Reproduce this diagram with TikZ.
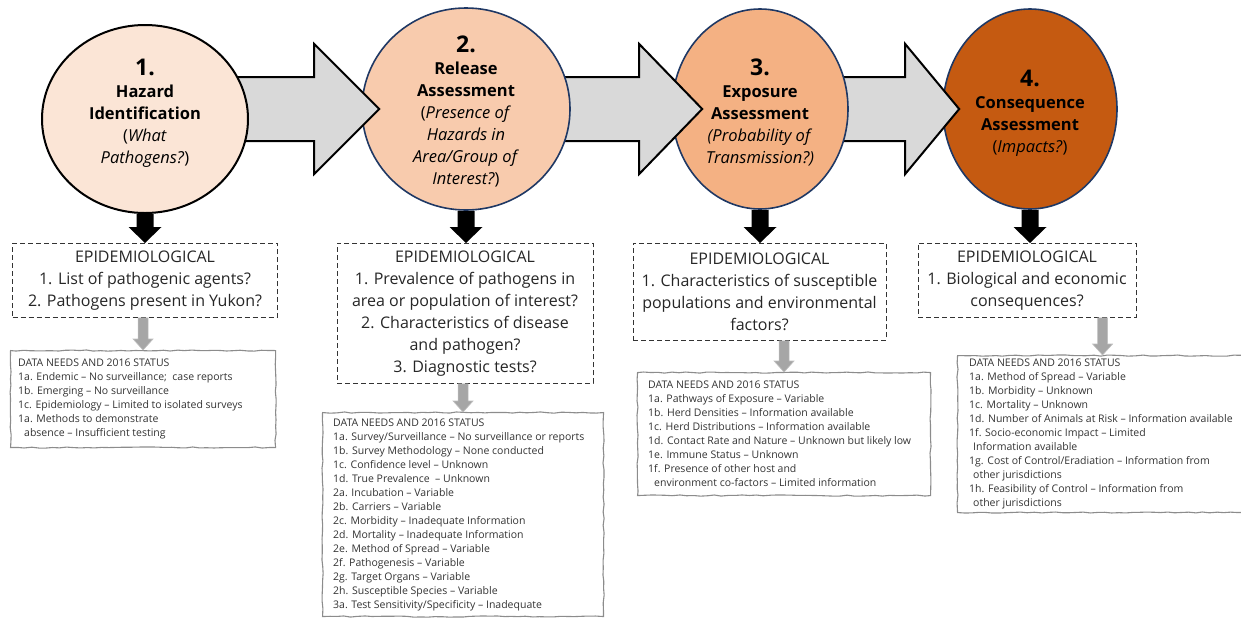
\documentclass[tikz,border=0pt]{standalone}
\usepackage{fontspec}
\setmainfont{Open Sans}
\usetikzlibrary{shapes.geometric,calc,decorations.pathmorphing}

\definecolor{stageone}{HTML}{FBE5D6}
\definecolor{stagetwo}{HTML}{F8CBAD}
\definecolor{stagethree}{HTML}{F4B183}
\definecolor{stagefour}{HTML}{C55A11}
\definecolor{navyline}{HTML}{1F3864}
\definecolor{arrowgrey}{HTML}{D9D9D9}
\definecolor{dropgrey}{HTML}{A6A6A6}

\tikzset{
  stage/.style={ellipse, draw=navyline, line width=1.6pt, inner sep=0pt},
  stagetext/.style={align=center, inner sep=0pt, font=\fontsize{16.5}{22}\selectfont},
  epibox/.style={draw=black!80, dash pattern=on 5pt off 3pt, line width=0.8pt, anchor=north,
    align=center, inner sep=4pt, text=black!85, font=\fontsize{16}{22}\selectfont},
  dataframe/.style={draw=black!45, line width=1.1pt, anchor=north west, inner sep=0pt,
    decorate, decoration={random steps, segment length=7pt, amplitude=0.6pt}},
  datatext/.style={anchor=west, align=left, inner sep=0pt, text=black!80,
    font=\fontsize{10.5}{14}\selectfont},
  flowarrow/.style={draw=black, fill=arrowgrey, line width=2pt, line join=miter},
  blackdrop/.style={fill=black},
  greydrop/.style={fill=dropgrey, draw=black!25, line width=0.6pt},
}

% block arrow: from centre, to node, tip offset, head length
\newcommand{\blockarrow}[4]{%
  \draw[flowarrow] let \p1=(#1), \p2=(#2.west) in
    (\x1,\y2+32pt) -- (\x2+#3-#4,\y2+32pt) -- (\x2+#3-#4,\y2+65pt) -- (\x2+#3,\y2)
    -- (\x2+#3-#4,\y2-65pt) -- (\x2+#3-#4,\y2-32pt) -- (\x1,\y2-32pt) -- cycle;}

% down arrow: style, from, to, shaft half width, head half width, head length
\newcommand{\droparrow}[6]{%
  \path[#1] let \p1=(#2), \p2=(#3) in
    (\x1-#4,\y1) -- (\x1-#4,\y2+#6) -- (\x1-#5,\y2+#6) -- (\x1,\y2)
    -- (\x1+#5,\y2+#6) -- (\x1+#4,\y2+#6) -- (\x1+#4,\y1) -- cycle;}

\newcommand{\stagenum}[1]{{\fontsize{23}{24}\selectfont\bfseries #1}}

\begin{document}
\begin{tikzpicture}[x=1pt, y=-1pt]
    \useasboundingbox (0,0) rectangle (1241,619);

    % Centres of the stages
    \coordinate (p1) at (145,119);
    \coordinate (p2) at (466,109);
    \coordinate (p3) at (760,109);
    \coordinate (p4) at (1030,109);

    % Stages, right to left, with the arrows between them
    \node[stage, fill=stagefour, minimum width=174pt, minimum height=200pt] (c4) at (p4) {};
    \blockarrow{p3}{c4}{17pt}{54pt}
    \node[stage, fill=stagethree, minimum width=176pt, minimum height=200pt] (c3) at (p3) {};
    \blockarrow{p2}{c3}{31pt}{63pt}
    \node[stage, fill=stagetwo, minimum width=208pt, minimum height=202pt] (c2) at (p2) {};
    \blockarrow{p1}{c2}{18pt}{65pt}
    \node[stage, fill=stageone, draw=black, line width=2pt, minimum width=206pt, minimum height=188pt] (c1) at (p1) {};

    \node[stagetext] (t1) at (145,113) {\stagenum{1.}\\\textbf{Hazard}\\\textbf{Identification}\\(\textit{What}\\\textit{Pathogens?})};
    \node[stagetext] (t2) at (466,111) {\stagenum{2.}\\\textbf{Release}\\\textbf{Assessment}\\(\textit{Presence of}\\\textit{Hazards in}\\\textit{Area/Group of}\\\textit{Interest?})};
    \node[stagetext] (t3) at (760,112) {\stagenum{3.}\\\textbf{Exposure}\\\textbf{Assessment}\\\textit{(Probability of}\\\textit{Transmission?)}};
    \node[stagetext] (t4) at (1030,113) {\stagenum{4.}\\\textbf{Consequence}\\\textbf{Assessment}\\(\textit{Impacts?})};

    % Epidemiological questions
    \node[epibox, minimum width=265pt, minimum height=74pt] (e1) at (145,243)
      {EPIDEMIOLOGICAL\\1. List of pathogenic agents?\\2. Pathogens present in Yukon?};
    \node[epibox, minimum width=256pt, minimum height=140pt] (e2) at (465,243)
      {EPIDEMIOLOGICAL\\1. Prevalence of pathogens in\\area or population of interest?\\2. Characteristics of disease\\and pathogen?\\3. Diagnostic tests?};
    \node[epibox, minimum width=253pt, minimum height=97pt] (e3) at (759.5,243)
      {EPIDEMIOLOGICAL\\1. Characteristics of susceptible\\populations and environmental\\factors?};
    \node[epibox, minimum width=218pt, minimum height=74pt] (e4) at (1027,243)
      {EPIDEMIOLOGICAL\\1. Biological and economic\\consequences?};

    \droparrow{blackdrop}{c1.south}{e1.north}{8.5pt}{16.5pt}{16pt}
    \droparrow{blackdrop}{c2.south}{e2.north}{8.5pt}{16.5pt}{16pt}
    \droparrow{blackdrop}{c3.south}{e3.north}{8.5pt}{16.5pt}{16pt}
    \droparrow{blackdrop}{c4.south}{e4.north}{8.5pt}{16.5pt}{16pt}

    % Data needs
    \node[dataframe, minimum width=265pt, minimum height=97pt] (d1) at (10,350) {};
    \node[dataframe, minimum width=281pt, minimum height=204pt] (d2) at (322,412) {};
    \node[dataframe, minimum width=293pt, minimum height=123pt] (d3) at (637,372) {};
    \node[dataframe, minimum width=290pt, minimum height=157pt] (d4) at (957,355) {};

    \node[datatext] (n1) at ($(d1.west)+(8,0)$) {DATA NEEDS AND 2016 STATUS\\
      1a. Endemic – No surveillance;\ \ case reports\\
      1b. Emerging – No surveillance\\
      1c. Epidemiology – Limited to isolated surveys\\
      1a. Methods to demonstrate\\
      \hspace*{6pt}absence – Insufficient testing};
    \node[datatext] (n2) at ($(d2.west)+(11,0)$) {DATA NEEDS AND 2016 STATUS\\
      1a. Survey/Surveillance – No surveillance or reports\\
      1b. Survey Methodology – None conducted\\
      1c. Confidence level – Unknown\\
      1d. True Prevalence\ \ – Unknown\\
      2a. Incubation – Variable\\
      2b. Carriers – Variable\\
      2c. Morbidity – Inadequate Information\\
      2d. Mortality – Inadequate Information\\
      2e. Method of Spread – Variable\\
      2f. Pathogenesis – Variable\\
      2g. Target Organs – Variable\\
      2h. Susceptible Species – Variable\\
      3a. Test Sensitivity/Specificity – Inadequate};
    \node[datatext] (n3) at ($(d3.west)+(11,0)$) {DATA NEEDS AND 2016 STATUS\\
      1a. Pathways of Exposure – Variable\\
      1b. Herd Densities – Information available\\
      1c. Herd Distributions – Information available\\
      1d. Contact Rate\ and Nature – Unknown but likely low\\
      1e. Immune Status – Unknown\\
      1f. Presence of other host and\\
      \hspace*{6pt}environment co-factors – Limited information};
    \node[datatext] (n4) at ($(d4.west)+(12,0)$) {DATA NEEDS AND 2016 STATUS\\
      1a. Method of Spread – Variable\\
      1b. Morbidity – Unknown\\
      1c. Mortality – Unknown\\
      1d. Number of Animals at Risk – Information available\\
      1f. Socio-economic Impact – Limited\\
      \hspace*{4pt}Information available\\
      1g. Cost of Control/Eradiation – Information from\\
      \hspace*{4pt}other jurisdictions\\
      1h. Feasibility of Control – Information from\\
      \hspace*{4pt}other jurisdictions};

    \droparrow{greydrop}{d1.north |- e1.south}{d1.north}{5pt}{10pt}{11pt}
    \droparrow{greydrop}{d2.north |- e2.south}{d2.north}{5pt}{10pt}{11pt}
    \droparrow{greydrop}{d3.north |- e3.south}{d3.north}{5pt}{10pt}{11pt}
    \droparrow{greydrop}{d4.north |- e4.south}{d4.north}{5pt}{10pt}{11pt}
\end{tikzpicture}
\end{document}
